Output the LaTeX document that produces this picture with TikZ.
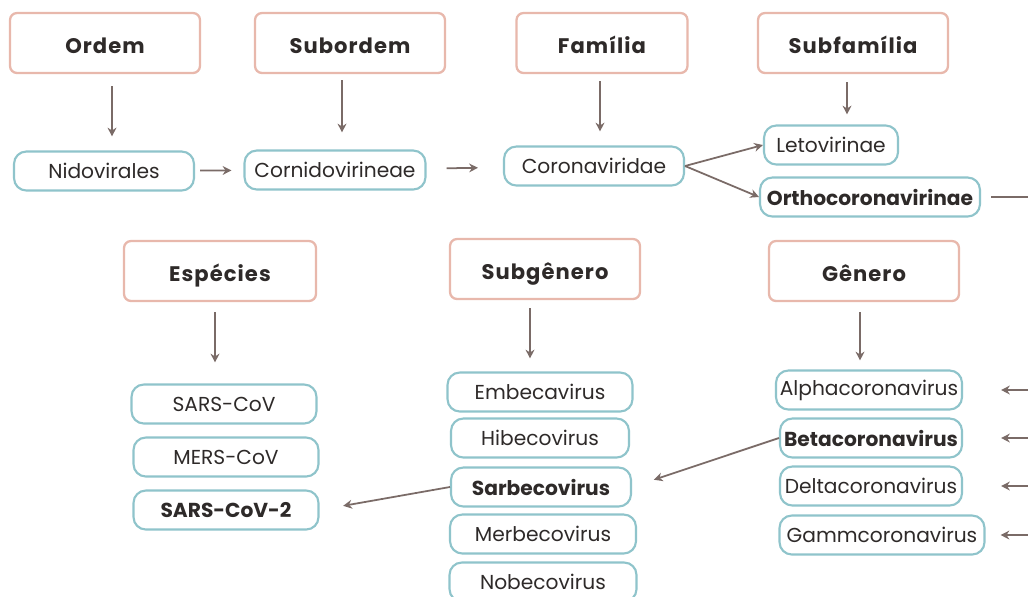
\documentclass[tikz,border=0pt]{standalone}
\usepackage{fontspec}
\setmainfont{Poppins}
\newfontfamily\headfont[LetterSpace=5]{Poppins}
\usetikzlibrary{arrows.meta}
\definecolor{rankline}{HTML}{E8B8AC}
\definecolor{taxline}{HTML}{8FC4CB}
\definecolor{arrcol}{HTML}{7A6B67}
\definecolor{txt}{HTML}{2E2A29}

\begin{document}
\begin{tikzpicture}[
  x=0.02cm,y=-0.02cm,
  rank/.style={draw=rankline,line width=1.3pt,rounded corners=4pt,minimum width=3.8cm,minimum height=1.2cm,text height=2.6ex,text depth=0.4ex,font=\headfont\bfseries\fontsize{12}{14}\selectfont,text=txt},
  tax/.style={draw=taxline,line width=1.2pt,rounded corners=7pt,minimum width=#1,minimum height=0.78cm,inner xsep=1pt,font=\fontsize{11.5}{13}\selectfont,text=txt},
  tax/.default=3.7cm,
  arr/.style={-{Stealth[length=5pt,width=5pt]},draw=arrcol,fill=arrcol,line width=1pt}
]
  \useasboundingbox[fill=white] (0,0) rectangle (1028,596);

  % ranks
  \node[rank] (ordem) at (105,43) {Ordem};
  \node[rank] (subordem) at (350,43) {Subordem};
  \node[rank,minimum width=3.42cm] (familia) at (602,43) {Família};
  \node[rank] (subfamilia) at (853,43) {Subfamília};
  \node[rank,minimum width=3.84cm] (especies) at (220,271) {Espécies};
  \node[rank] (subgenero) at (545,269) {Subgênero};
  \node[rank] (genero) at (864,271) {Gênero};

  % upper row
  \node[tax=3.6cm] (nidovirales) at (104,171) {Nidovirales};
  \node[tax=3.62cm] (cornidovirineae) at (335,170) {Cornidovirineae};
  \node[tax=3.6cm] (coronaviridae) at (594,166) {Coronaviridae};
  \node[tax=2.68cm] (letovirinae) at (831,145) {Letovirinae};
  \node[tax=4.4cm,font=\bfseries\fontsize{11.5}{13}\selectfont] (ortho) at (870,197) {Orthocoronavirinae};
  \coordinate (orthoout) at (1028,197);

  % species
  \node[tax] (sarscov) at (224,404) {SARS-CoV};
  \node[tax] (merscov) at (226,457) {MERS-CoV};
  \node[tax,font=\bfseries\fontsize{11.5}{13}\selectfont] (sarscovtwo) at (226,510) {SARS-CoV-2};

  % subgenera
  \node[tax] (embeca) at (540,392) {Embecavirus};
  \node[tax=3.56cm] (hibeco) at (540,438) {Hibecovirus};
  \node[tax=3.6cm,font=\bfseries\fontsize{11.5}{13}\selectfont] (sarbeco) at (541,487) {Sarbecovirus};
  \node[tax=3.72cm] (merbeco) at (543,534) {Merbecovirus};
  \node[tax=3.74cm] (nobeco) at (543,582) {Nobecovirus};

  % genera
  \node[tax=3.72cm] (alpha) at (869,390) {Alphacoronavirus};
  \node[tax=3.64cm,font=\bfseries\fontsize{11.5}{13}\selectfont] (beta) at (871,438) {Betacoronavirus};
  \node[tax=3.64cm] (delta) at (871,486) {Deltacoronavirus};
  \node[tax=4.1cm] (gamm) at (882,535) {Gammcoronavirus};
  \coordinate (inalpha) at (1028,390);
  \coordinate (inbeta) at (1028,438);
  \coordinate (indelta) at (1028,486);
  \coordinate (ingamm) at (1028,535);

  % rank arrows
  \draw[arr,shorten <=0.24cm,shorten >=0.28cm] (ordem.south -| 112,0) -- (nidovirales.north -| 112,0);
  \draw[arr,shorten <=0.12cm,shorten >=0.34cm] (subordem.south -| 342,0) -- (cornidovirineae.north -| 342,0);
  \draw[arr,shorten <=0.14cm,shorten >=0.28cm] (familia.south -| 600,0) -- (coronaviridae.north -| 600,0);
  \draw[arr,shorten <=0.16cm,shorten >=0.2cm] (subfamilia.south -| 847,0) -- (letovirinae.north -| 847,0);
  \draw[arr,shorten <=0.2cm,shorten >=0.42cm] (especies.south -| 215,0) -- (sarscov.north -| 215,0);
  \draw[arr,shorten <=0.16cm,shorten >=0.26cm] (subgenero.south -| 530,0) -- (embeca.north -| 530,0);
  \draw[arr,shorten <=0.2cm,shorten >=0.18cm] (genero.south -| 860,0) -- (alpha.north -| 860,0);

  % taxon arrows
  \draw[arr,shorten <=0.1cm,shorten >=0.24cm] (nidovirales) -- (cornidovirineae);
  \draw[arr,shorten <=0.4cm,shorten >=0.5cm] (cornidovirineae) -- (coronaviridae);
  \draw[arr] (coronaviridae.east) -- (letovirinae.west);
  \draw[arr] (coronaviridae.east) -- (ortho.west);
  \draw[draw=arrcol,line width=1pt,shorten <=0.2cm] (ortho) -- (orthoout);
  \draw[arr,shorten >=0.76cm] (inalpha) -- (alpha.east);
  \draw[arr,shorten >=0.76cm] (inbeta) -- (beta.east);
  \draw[arr,shorten >=0.76cm] (indelta) -- (delta.east);
  \draw[arr,shorten >=0.3cm] (ingamm) -- (gamm.east);
  \draw[arr,shorten >=0.46cm] (beta.west) -- (sarbeco.east);
  \draw[arr,shorten >=0.48cm] (sarbeco.west) -- (sarscovtwo.east);
\end{tikzpicture}
\end{document}
